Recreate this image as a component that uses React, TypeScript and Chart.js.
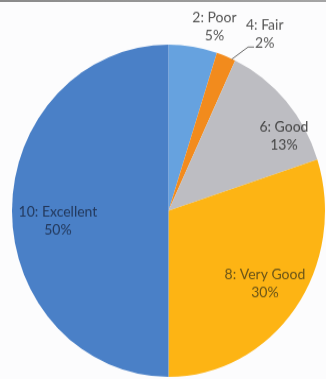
import React, { useEffect, useRef } from "react";
import { Chart, registerables } from "chart.js";

Chart.register(...registerables);

// ---- data ----
const categories = ["2: Poor", "4: Fair", "6: Good", "8: Very Good", "10: Excellent"];
const percentages = [5, 2, 13, 30, 50];

// ---- styles ----
const sliceColors = ["#66a2df", "#f28b1d", "#bdbdc2", "#fdb414", "#4a80c7"];
const labelColors = ["#555555", "#555555", "#454545", "#6a5418", "#23385c"];
// label placement: angular offset from slice middle (deg) and radius fraction
const labelAngleOffsets = [5.8, 8.4, 9.9, -0.8, -4.9];
const labelRadiusFractions = [1.15, 1.23, 0.865, 0.754, 0.709];
const leaderLines = [false, true, false, false, false];

const FONT = "14px Lato, 'Open Sans', sans-serif";
const LINE_GAP = 17;

const labelPlugin = {
  id: "sliceLabels",
  afterDatasetsDraw(chart: any) {
    const ctx = chart.ctx;
    const meta = chart.getDatasetMeta(0);
    const data = chart.data.datasets[0].data as number[];
    const total = data.reduce((a, b) => a + b, 0);
    ctx.save();
    ctx.font = FONT;
    ctx.textAlign = "center";
    ctx.textBaseline = "middle";
    meta.data.forEach((arc: any, i: number) => {
      const p = arc.getProps(["x", "y", "startAngle", "endAngle", "outerRadius"], true);
      const mid = (p.startAngle + p.endAngle) / 2 + (labelAngleOffsets[i] * Math.PI) / 180;
      const r = p.outerRadius * labelRadiusFractions[i];
      const lx = p.x + r * Math.cos(mid);
      const ly = p.y + r * Math.sin(mid);
      const pct = Math.round((data[i] / total) * 100) + "%";
      ctx.fillStyle = labelColors[i];
      ctx.fillText(String(chart.data.labels[i]), lx, ly - LINE_GAP / 2);
      ctx.fillText(pct, lx, ly + LINE_GAP / 2);
      if (leaderLines[i]) {
        const w = ctx.measureText(pct).width;
        const a = p.startAngle + (p.endAngle - p.startAngle) * 0.75;
        const ex = p.x + p.outerRadius * Math.cos(a);
        const ey = p.y + p.outerRadius * Math.sin(a);
        const sx = lx - w / 2 - 1;
        const sy = ly + LINE_GAP / 2 + 4;
        ctx.strokeStyle = "#6b6b6b";
        ctx.lineWidth = 1;
        ctx.beginPath();
        ctx.moveTo(sx, sy);
        ctx.lineTo(sx - 6, sy);
        ctx.lineTo(ex + 1, ey + 1);
        ctx.stroke();
      }
    });
    ctx.restore();
  },
};

export default function App() {
  const ref = useRef<HTMLCanvasElement | null>(null);
  useEffect(() => {
    if (!ref.current) return;
    const chart = new Chart(ref.current, {
      type: "pie",
      data: {
        labels: categories,
        datasets: [
          {
            data: percentages,
            backgroundColor: sliceColors,
            borderWidth: 0,
            hoverOffset: 0,
          },
        ],
      },
      options: {
        animation: false,
        responsive: false,
        devicePixelRatio: 1,
        events: [],
        layout: { padding: { left: 12, right: 1, top: 42, bottom: 2 } },
        plugins: {
          legend: { display: false },
          tooltip: { enabled: false },
        },
      },
      plugins: [labelPlugin],
    });
    return () => chart.destroy();
  }, []);

  return (
    <div
      style={{
        position: "fixed",
        left: 0,
        top: 0,
        width: 326,
        height: 379,
        background: "#fcfcfd",
        overflow: "hidden",
      }}
    >
      <div
        style={{
          position: "absolute",
          left: 0,
          top: 0,
          width: 326,
          height: 357,
          transform: "scaleY(1.0616)",
          transformOrigin: "top left",
        }}
      >
        <canvas ref={ref} width={326} height={357} style={{ display: "block" }} />
      </div>
      <div
        style={{
          position: "absolute",
          left: 0,
          top: 0,
          width: 326,
          height: 2,
          background: "linear-gradient(to right, #8a8a8a, #a5a5a5)",
        }}
      />
    </div>
  );
}
